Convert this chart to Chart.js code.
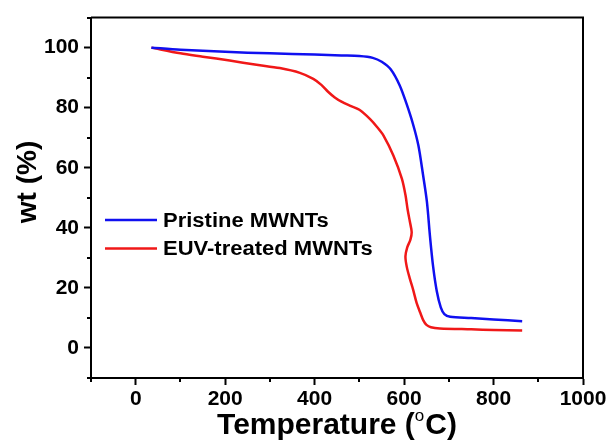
<!DOCTYPE html>
<html>
<head>
<meta charset="utf-8">
<script src="https://cdn.jsdelivr.net/npm/chart.js@4.4.1/dist/chart.umd.min.js"></script>
<style>
  body { margin: 0; background: #fff; }
  canvas { display: block; }
</style>
</head>
<body>
<canvas id="myChart" width="612" height="446"></canvas>
<script>
// TGA curves
const pristineTemp = [35, 100, 200, 300, 400, 460, 500, 530, 550, 570, 590, 605, 620, 632, 642, 651, 658, 665, 673, 682, 690, 703, 750, 800, 864];
const pristineWt = [100, 99.3, 98.6, 98.1, 97.7, 97.4, 97.2, 96.6, 95.3, 92.8, 87.5, 81.5, 74.5, 67.4, 58, 48.7, 37, 27, 19, 13.5, 11.3, 10.4, 10.0, 9.5, 8.9];

const euvTemp = [35, 100, 150, 210, 270, 322, 367, 397, 415, 430, 445, 460, 480, 500, 524, 540, 554, 576, 595, 603, 608, 613, 617, 614, 607, 603, 606, 613, 620, 628, 636, 643, 650, 660, 680, 750, 800, 864];
const euvWt = [100, 98.1, 97, 95.7, 94.3, 93.2, 91.6, 89.6, 87.6, 85.3, 83.4, 82, 80.6, 79.3, 76.2, 73.5, 70.7, 64.1, 56.4, 51, 46, 42, 38.5, 36, 33.5, 30.5, 27, 23, 19.5, 15, 11.8, 9.2, 7.7, 6.9, 6.5, 6.2, 6.0, 5.8];

const seriesNames = ["Pristine MWNTs", "EUV-treated MWNTs"];
const seriesColors = ["rgb(16,16,240)", "rgb(240,24,24)"];

const xTicks = [0, 200, 400, 600, 800, 1000];
const xMinor = [-100, 100, 300, 500, 700, 900];
const yTicks = [0, 20, 40, 60, 80, 100];
const yMinor = [-10, 10, 30, 50, 70, 90, 110];

function toPoints(xs, ys) {
    return xs.map((x, i) => ({x: x, y: ys[i]}));
}

// top/right frame, minor ticks, axis titles and legend
const extras = {
    id: "extras",
    afterDraw(chart) {
        const ctx = chart.ctx;
        const a = chart.chartArea;
        const xs = chart.scales.x, ys = chart.scales.y;
        ctx.save();
        ctx.strokeStyle = "#000";
        ctx.lineWidth = 2;
        ctx.beginPath();
        ctx.moveTo(a.left, a.top);
        ctx.lineTo(a.right, a.top);
        ctx.lineTo(a.right, a.bottom);
        ctx.stroke();

        ctx.beginPath();
        xMinor.forEach(v => {
            const px = Math.round(xs.getPixelForValue(v));
            ctx.moveTo(px, a.bottom);
            ctx.lineTo(px, a.bottom + 4);
        });
        yMinor.forEach(v => {
            const py = Math.round(ys.getPixelForValue(v));
            ctx.moveTo(a.left, py);
            ctx.lineTo(a.left - 4, py);
        });
        ctx.stroke();

        // x title with superscript o
        ctx.fillStyle = "#000";
        ctx.textBaseline = "alphabetic";
        ctx.textAlign = "left";
        const mainFont = "bold 30px Arial";
        const supFont = "17px Arial";
        ctx.font = mainFont;
        const w1 = ctx.measureText("Temperature (").width;
        const w3 = ctx.measureText("C)").width;
        ctx.font = supFont;
        const w2 = ctx.measureText("o").width + 1;
        const cx = (a.left + a.right) / 2;
        let tx = cx - (w1 + w2 + w3) / 2;
        const base = 434;
        ctx.font = mainFont;
        ctx.fillText("Temperature (", tx, base);
        ctx.font = supFont;
        ctx.fillText("o", tx + w1, base - 13);
        ctx.font = mainFont;
        ctx.fillText("C)", tx + w1 + w2, base);

        // y title
        ctx.save();
        ctx.translate(28, 182);
        ctx.rotate(-Math.PI / 2);
        ctx.textAlign = "center";
        ctx.textBaseline = "middle";
        ctx.font = "bold 28px Arial";
        ctx.fillText("wt (%)", 0, 0);
        ctx.restore();

        // legend
        ctx.lineWidth = 2.5;
        const rows = [220, 248.5];
        seriesNames.forEach((name, i) => {
            ctx.strokeStyle = seriesColors[i];
            ctx.beginPath();
            ctx.moveTo(105, rows[i]);
            ctx.lineTo(157, rows[i]);
            ctx.stroke();
            ctx.save();
            ctx.translate(163, rows[i] + 1);
            ctx.scale(1.1, 1);
            ctx.font = "bold 20px Arial";
            ctx.textBaseline = "middle";
            ctx.textAlign = "left";
            ctx.fillText(name, 0, 0);
            ctx.restore();
        });
        ctx.restore();
    }
};

const tickFont = {family: "Arial", weight: "bold", size: 21};

new Chart(document.getElementById("myChart").getContext("2d"), {
    type: "line",
    data: {
        datasets: [{
            label: seriesNames[0],
            data: toPoints(pristineTemp, pristineWt),
            borderColor: seriesColors[0],
            borderWidth: 2.5,
            pointRadius: 0,
            tension: 0.3,
            fill: false
        }, {
            label: seriesNames[1],
            data: toPoints(euvTemp, euvWt),
            borderColor: seriesColors[1],
            borderWidth: 2.5,
            pointRadius: 0,
            tension: 0.3,
            fill: false
        }]
    },
    options: {
        responsive: false,
        animation: false,
        events: [],
        layout: {padding: {top: 14, right: 29, left: 0, bottom: 0}},
        plugins: {legend: {display: false}, tooltip: {enabled: false}},
        scales: {
            x: {
                type: "linear",
                min: -100,
                max: 1000,
                afterBuildTicks: s => { s.ticks = xTicks.map(v => ({value: v})); },
                afterFit: s => { s.height = 68; },
                grid: {drawOnChartArea: false, tickLength: 7, tickWidth: 2, tickColor: "#000"},
                border: {color: "#000", width: 2},
                ticks: {font: tickFont, color: "#000", padding: 2, maxRotation: 0, autoSkip: false, callback: v => String(v)}
            },
            y: {
                type: "linear",
                min: -10,
                max: 110,
                afterBuildTicks: s => { s.ticks = yTicks.map(v => ({value: v})); },
                afterFit: s => { s.width = 91; },
                grid: {drawOnChartArea: false, tickLength: 7, tickWidth: 2, tickColor: "#000"},
                border: {color: "#000", width: 2},
                ticks: {font: tickFont, color: "#000", padding: 5, autoSkip: false, callback: v => String(v)}
            }
        }
    },
    plugins: [extras]
});
</script>
</body>
</html>
